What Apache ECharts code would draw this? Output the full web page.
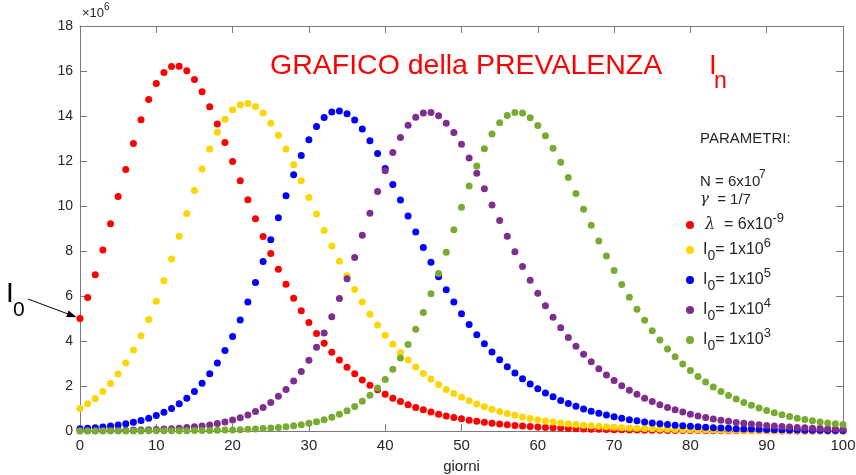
<!DOCTYPE html>
<html>
<head>
<meta charset="utf-8">
<script src="https://cdn.jsdelivr.net/npm/echarts@6/dist/echarts.min.js"></script>
<style>
  html, body { margin: 0; padding: 0; background: #ffffff; }
  #chart { width: 856px; height: 475px; }
</style>
</head>
<body>
<div id="chart"></div>
<script>
// Prevalenza I_n (milioni) per giorno 0..100, modello SIR con N = 6e7, gamma = 1/7, lambda = 6e-9
const prevRosso = [5.00, 5.93, 6.94, 8.04, 9.21, 10.42, 11.62, 12.78, 13.83, 14.73,
  15.45, 15.93, 16.20, 16.21, 16.01, 15.62, 15.08, 14.41, 13.64, 12.82,
  11.98, 11.12, 10.28, 9.43, 8.65, 7.89, 7.19, 6.52, 5.90, 5.34,
  4.82, 4.33, 3.90, 3.50, 3.16, 2.83, 2.54, 2.27, 2.03, 1.83,
  1.63, 1.46, 1.31, 1.17, 1.05, 0.94, 0.84, 0.75, 0.67, 0.60,
  0.54, 0.48, 0.43, 0.385, 0.345, 0.31, 0.277, 0.248, 0.222, 0.199,
  0.178, 0.159, 0.143, 0.128, 0.114, 0.102, 0.092, 0.082, 0.073, 0.066,
  0.059, 0.053, 0.047, 0.042, 0.038, 0.034, 0.030, 0.027, 0.024, 0.022,
  0.019, 0.017, 0.0155, 0.014, 0.0124, 0.011, 0.0099, 0.0089, 0.008, 0.0071,
  0.0064, 0.0057, 0.0051, 0.0046, 0.0041, 0.0037, 0.0033, 0.0029, 0.0026, 0.0024,
  0.0021];

const prevGiallo = [1.00, 1.21, 1.45, 1.76, 2.11, 2.53, 3.02, 3.60, 4.23, 4.96,
  5.77, 6.68, 7.64, 8.66, 9.67, 10.69, 11.65, 12.53, 13.28, 13.86,
  14.28, 14.50, 14.56, 14.42, 14.13, 13.68, 13.15, 12.53, 11.83, 11.12,
  10.38, 9.64, 8.91, 8.22, 7.54, 6.90, 6.29, 5.73, 5.19, 4.71,
  4.26, 3.86, 3.49, 3.16, 2.84, 2.56, 2.31, 2.07, 1.85, 1.67,
  1.50, 1.34, 1.20, 1.08, 0.97, 0.87, 0.78, 0.70, 0.62, 0.56,
  0.50, 0.45, 0.40, 0.36, 0.32, 0.29, 0.26, 0.23, 0.21, 0.185,
  0.165, 0.148, 0.132, 0.118, 0.106, 0.095, 0.085, 0.076, 0.068, 0.061,
  0.054, 0.049, 0.044, 0.039, 0.035, 0.031, 0.028, 0.025, 0.022, 0.020,
  0.018, 0.016, 0.014, 0.013, 0.012, 0.010, 0.009, 0.008, 0.0075, 0.0067,
  0.006];

const prevBlu = [0.100, 0.121, 0.147, 0.179, 0.217, 0.263, 0.319, 0.387, 0.469, 0.568,
  0.688, 0.832, 1.005, 1.21, 1.46, 1.76, 2.12, 2.54, 3.02, 3.58,
  4.20, 4.93, 5.73, 6.60, 7.53, 8.50, 9.48, 10.46, 11.39, 12.24,
  12.95, 13.53, 13.93, 14.18, 14.22, 14.10, 13.82, 13.42, 12.90, 12.33,
  11.67, 10.96, 10.27, 9.56, 8.85, 8.16, 7.50, 6.86, 6.28, 5.73,
  5.21, 4.73, 4.28, 3.88, 3.51, 3.17, 2.86, 2.58, 2.32, 2.09,
  1.88, 1.69, 1.52, 1.36, 1.22, 1.10, 0.98, 0.88, 0.79, 0.71,
  0.63, 0.565, 0.505, 0.452, 0.404, 0.361, 0.323, 0.289, 0.258, 0.231,
  0.206, 0.184, 0.165, 0.147, 0.132, 0.118, 0.105, 0.094, 0.084, 0.075,
  0.067, 0.060, 0.054, 0.048, 0.043, 0.038, 0.034, 0.031, 0.027, 0.024,
  0.022];

const prevViola = [0.010, 0.0122, 0.0148, 0.0179, 0.0218, 0.0265, 0.0322, 0.0391, 0.0475, 0.0577,
  0.070, 0.085, 0.103, 0.125, 0.152, 0.185, 0.224, 0.272, 0.330, 0.40,
  0.485, 0.59, 0.715, 0.87, 1.05, 1.27, 1.54, 1.85, 2.22, 2.65,
  3.15, 3.72, 4.36, 5.08, 5.89, 6.77, 7.71, 8.70, 9.68, 10.65,
  11.57, 12.38, 13.05, 13.59, 13.94, 14.13, 14.16, 14.01, 13.68, 13.27,
  12.74, 12.13, 11.46, 10.77, 10.05, 9.36, 8.66, 7.97, 7.31, 6.70,
  6.12, 5.57, 5.06, 4.59, 4.16, 3.77, 3.41, 3.08, 2.77, 2.49,
  2.24, 2.01, 1.81, 1.63, 1.46, 1.31, 1.17, 1.05, 0.94, 0.84,
  0.75, 0.67, 0.60, 0.535, 0.48, 0.43, 0.383, 0.342, 0.306, 0.274,
  0.245, 0.219, 0.196, 0.175, 0.156, 0.140, 0.125, 0.112, 0.100, 0.089,
  0.080];

const prevVerde = [0.001, 0.0012, 0.0015, 0.0018, 0.0022, 0.0026, 0.0032, 0.0039, 0.0047, 0.0058,
  0.0070, 0.0085, 0.0104, 0.0126, 0.0153, 0.0186, 0.0226, 0.0274, 0.0333, 0.0405,
  0.0492, 0.0597, 0.0726, 0.0882, 0.107, 0.130, 0.158, 0.19, 0.23, 0.28,
  0.34, 0.41, 0.50, 0.61, 0.74, 0.90, 1.09, 1.32, 1.59, 1.91,
  2.29, 2.74, 3.25, 3.84, 4.52, 5.27, 6.10, 7.00, 7.95, 8.95,
  9.94, 10.89, 11.78, 12.55, 13.20, 13.70, 14.02, 14.16, 14.13, 13.92,
  13.58, 13.12, 12.57, 11.95, 11.27, 10.56, 9.86, 9.15, 8.45, 7.78,
  7.13, 6.51, 5.94, 5.41, 4.92, 4.46, 4.04, 3.65, 3.30, 2.98,
  2.69, 2.42, 2.18, 1.96, 1.76, 1.58, 1.42, 1.27, 1.14, 1.02,
  0.91, 0.81, 0.72, 0.64, 0.57, 0.51, 0.455, 0.405, 0.36, 0.325,
  0.29];

// Voci di legenda (testo con apici/pedici) e colori delle serie
const nomiSerie = ['lambda', 'I0_1e6', 'I0_1e5', 'I0_1e4', 'I0_1e3'];
const etichetteLegenda = {
  lambda: '{g|λ}{t|  = 6x10}{sup|-9}',
  I0_1e6: '{t|I}{sub|0}{t|= 1x10}{sup|6}',
  I0_1e5: '{t|I}{sub|0}{t|= 1x10}{sup|5}',
  I0_1e4: '{t|I}{sub|0}{t|= 1x10}{sup|4}',
  I0_1e3: '{t|I}{sub|0}{t|= 1x10}{sup|3}'
};
const coloriSerie = ['#ff0000', '#ffd500', '#0000ff', '#7e2f8e', '#77ac30'];
const valoriSerie = [prevRosso, prevGiallo, prevBlu, prevViola, prevVerde];

const FONT = "'Liberation Sans', Arial, Helvetica, sans-serif";
const AXIS_COLOR = '#7a7a7a';
const TEXT_COLOR = '#262626';

const chart = echarts.init(document.getElementById('chart'), null, { renderer: 'canvas' });

function asseX(pos, labels) {
  return {
    type: 'value', position: pos, min: 0, max: 100, interval: 10,
    axisLine: { show: true, onZero: false, lineStyle: { color: AXIS_COLOR, width: 1 } },
    axisTick: { show: true, inside: true, length: 7, lineStyle: { color: AXIS_COLOR } },
    axisLabel: { show: labels, color: TEXT_COLOR, fontSize: 15, fontFamily: FONT, margin: 7 },
    splitLine: { show: false },
    name: labels ? 'giorni' : '', nameLocation: 'middle', nameGap: 28,
    nameTextStyle: { color: TEXT_COLOR, fontSize: 15, fontFamily: FONT }
  };
}
function asseY(pos, labels) {
  return {
    type: 'value', position: pos, min: 0, max: 18, interval: 2,
    axisLine: { show: true, onZero: false, lineStyle: { color: AXIS_COLOR, width: 1 } },
    axisTick: { show: true, inside: true, length: 7, lineStyle: { color: AXIS_COLOR } },
    axisLabel: { show: labels, color: TEXT_COLOR, fontSize: 14, fontFamily: FONT, margin: 7 },
    splitLine: { show: false }
  };
}

const rich = {
  t: { fontSize: 16, fontFamily: FONT, color: TEXT_COLOR, lineHeight: 26, verticalAlign: 'middle' },
  g: { fontSize: 16, fontFamily: "'DejaVu Serif', serif", fontStyle: 'italic', color: TEXT_COLOR, lineHeight: 26, padding: [0, 0, 0, 2] },
  sub: { fontSize: 14, fontFamily: FONT, color: TEXT_COLOR, lineHeight: 26, verticalAlign: 'bottom' },
  sup: { fontSize: 13, fontFamily: FONT, color: TEXT_COLOR, lineHeight: 26, verticalAlign: 'top' }
};

const option = {
  animation: false,
  backgroundColor: '#ffffff',
  grid: { left: 80, right: 13, top: 26, bottom: 44, containLabel: false, outerBoundsMode: 'none' },
  xAxis: [asseX('bottom', true), asseX('top', false)],
  yAxis: [asseY('left', true), asseY('right', false)],
  legend: {
    orient: 'vertical', left: 681, top: 207,
    itemWidth: 8, itemHeight: 8, itemGap: 4, icon: 'circle',
    data: nomiSerie,
    formatter: function (n) { return etichetteLegenda[n]; },
    textStyle: { rich: rich, padding: [0, 0, 0, 4] },
    selectedMode: false
  },
  series: nomiSerie.map(function (n, k) {
    return {
      name: n, type: 'scatter', xAxisIndex: 0, yAxisIndex: 0,
      symbol: 'circle', symbolSize: 7,
      itemStyle: { color: coloriSerie[k], opacity: 1 },
      data: valoriSerie[k].map(function (v, giorno) { return [giorno, v]; }),
      z: 2 + k
    };
  })
};
chart.setOption(option);

// Testi e freccia dell'annotazione I0
const p0 = chart.convertToPixel({ xAxisIndex: 0, yAxisIndex: 0 }, [0, prevRosso[0]]);
const start = [28, 299];
const dx = p0[0] - start[0], dy = p0[1] - start[1];
const len = Math.sqrt(dx * dx + dy * dy);
const ux = dx / len, uy = dy / len;
const tip = [p0[0] - ux * 3.5, p0[1] - uy * 3.5];
const head = 10, half = 3.5;
const base = [tip[0] - ux * head, tip[1] - uy * head];
const arrowHead = [tip, [base[0] - uy * half, base[1] + ux * half], [base[0] + uy * half, base[1] - ux * half]];

chart.setOption({
  graphic: [
    { type: 'text', left: 270, top: 52, style: { text: 'GRAFICO della PREVALENZA', fill: '#ff0000', font: '28.5px ' + FONT } },
    { type: 'text', left: 709, top: 52, style: { text: 'I', fill: '#ff0000', font: '28px ' + FONT } },
    { type: 'text', left: 714, top: 70, style: { text: 'n', fill: '#ff0000', font: '23px ' + FONT } },
    { type: 'text', left: 82, top: 7, style: { text: '×10', fill: TEXT_COLOR, font: '13px ' + FONT } },
    { type: 'text', left: 104, top: 2, style: { text: '6', fill: TEXT_COLOR, font: '10px ' + FONT } },
    { type: 'text', left: 700, top: 131, style: { text: 'PARAMETRI:', fill: TEXT_COLOR, font: '15px ' + FONT } },
    { type: 'text', left: 700, top: 174, style: { text: 'N = 6x10', fill: TEXT_COLOR, font: '15px ' + FONT } },
    { type: 'text', left: 759, top: 169, style: { text: '7', fill: TEXT_COLOR, font: '12px ' + FONT } },
    { type: 'text', left: 700, top: 192, style: { text: 'γ', fill: TEXT_COLOR, font: 'italic 15px "DejaVu Serif", serif' } },
    { type: 'text', left: 713, top: 192, style: { text: ' = 1/7', fill: TEXT_COLOR, font: '15px ' + FONT } },
    { type: 'text', left: 6, top: 280, style: { text: 'I', fill: '#000000', font: '28px ' + FONT } },
    { type: 'text', left: 13, top: 300, style: { text: '0', fill: '#000000', font: '21px ' + FONT } },
    { type: 'line', shape: { x1: start[0], y1: start[1], x2: base[0], y2: base[1] }, style: { stroke: '#000000', lineWidth: 1 }, z: 100 },
    { type: 'polygon', shape: { points: arrowHead }, style: { fill: '#000000' }, z: 100 }
  ]
});
</script>
</body>
</html>
